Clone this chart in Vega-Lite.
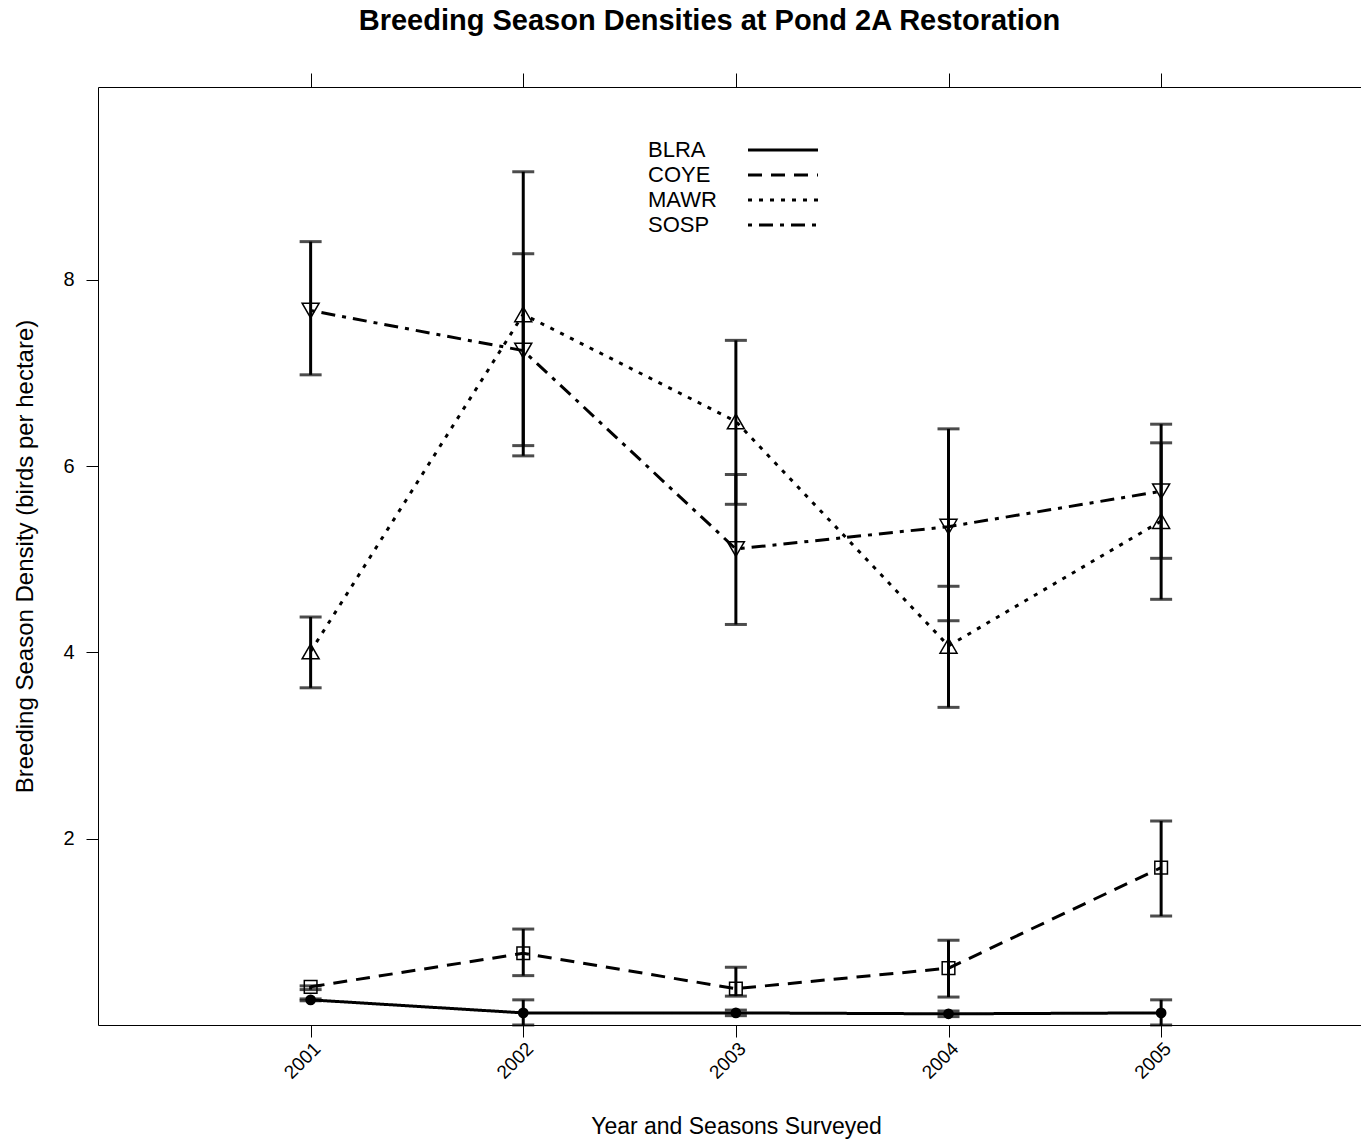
{
  "$schema": "https://vega.github.io/schema/vega-lite/v6.json",
  "width": 1263,
  "height": 938,
  "autosize": {"type": "none"},
  "padding": {"left": 98, "top": 87, "right": 0, "bottom": 119},
  "background": "white",
  "title": {
    "text": "Breeding Season Densities at Pond 2A Restoration",
    "font": "Liberation Sans",
    "fontSize": 29,
    "fontWeight": "bold",
    "color": "black",
    "anchor": "middle",
    "dx": -20,
    "baseline": "alphabetic",
    "offset": 14
  },
  "config": {
    "view": {"stroke": null},
    "font": "Liberation Sans",
    "axis": {
      "domainColor": "black",
      "tickColor": "black",
      "labelColor": "black",
      "titleColor": "black",
      "labelFont": "Liberation Sans",
      "titleFont": "Liberation Sans",
      "titleFontWeight": "normal",
      "grid": false,
      "tickSize": 12,
      "labelFontSize": 20,
      "titleFontSize": 23
    }
  },
  "data": {
    "values": [
      {"species": "BLRA", "year": 2001, "value": 0.27, "lo": 0.26, "hi": 0.28},
      {"species": "BLRA", "year": 2002, "value": 0.13, "lo": 0.0, "hi": 0.27},
      {"species": "BLRA", "year": 2003, "value": 0.13, "lo": 0.1, "hi": 0.16},
      {"species": "BLRA", "year": 2004, "value": 0.12, "lo": 0.09, "hi": 0.15},
      {"species": "BLRA", "year": 2005, "value": 0.13, "lo": 0.0, "hi": 0.27},
      {"species": "COYE", "year": 2001, "value": 0.41, "lo": 0.38, "hi": 0.42},
      {"species": "COYE", "year": 2002, "value": 0.77, "lo": 0.53, "hi": 1.03},
      {"species": "COYE", "year": 2003, "value": 0.39, "lo": 0.31, "hi": 0.62},
      {"species": "COYE", "year": 2004, "value": 0.61, "lo": 0.3, "hi": 0.91},
      {"species": "COYE", "year": 2005, "value": 1.69, "lo": 1.17, "hi": 2.19},
      {"species": "MAWR", "year": 2001, "value": 4.01, "lo": 3.62, "hi": 4.38},
      {"species": "MAWR", "year": 2002, "value": 7.63, "lo": 6.11, "hi": 9.16},
      {"species": "MAWR", "year": 2003, "value": 6.48, "lo": 5.59, "hi": 7.35},
      {"species": "MAWR", "year": 2004, "value": 4.07, "lo": 3.41, "hi": 4.71},
      {"species": "MAWR", "year": 2005, "value": 5.41, "lo": 4.57, "hi": 6.25},
      {"species": "SOSP", "year": 2001, "value": 7.67, "lo": 6.98, "hi": 8.41},
      {"species": "SOSP", "year": 2002, "value": 7.24, "lo": 6.22, "hi": 8.28},
      {"species": "SOSP", "year": 2003, "value": 5.11, "lo": 4.3, "hi": 5.91},
      {"species": "SOSP", "year": 2004, "value": 5.35, "lo": 4.34, "hi": 6.4},
      {"species": "SOSP", "year": 2005, "value": 5.73, "lo": 5.01, "hi": 6.45}
    ]
  },
  "resolve": {"axis": {"x": "independent", "y": "independent"}},
  "layer": [
    {
      "mark": {"type": "line", "color": "black", "strokeWidth": 3},
      "encoding": {
        "x": {
          "field": "year", "type": "quantitative",
          "scale": {"domain": [2000, 2005.94], "nice": false, "zero": false},
          "axis": {
            "values": [2001, 2002, 2003, 2004, 2005],
            "format": "d",
            "labelAngle": -45,
            "labelAlign": "right",
            "labelBaseline": "top",
            "labelPadding": 2,
            "labelFontSize": 19,
            "labelFlush": false,
            "labelOverlap": false,
            "title": "Year and Seasons Surveyed",
            "titleX": 638,
            "titleY": 101,
            "titleAlign": "center",
            "titleBaseline": "middle"
          }
        },
        "y": {
          "field": "value", "type": "quantitative",
          "scale": {"domain": [0, 10.07], "nice": false, "zero": false},
          "axis": {
            "values": [2, 4, 6, 8],
            "labelPadding": 12,
            "title": "Breeding Season Density (birds per hectare)",
            "titleFontSize": 24,
            "titleX": -73,
            "titleY": 469,
            "titleAngle": -90,
            "titleAlign": "center",
            "titleBaseline": "middle"
          }
        },
        "strokeDash": {
          "field": "species", "type": "nominal",
          "scale": {
            "domain": ["BLRA", "COYE", "MAWR", "SOSP"],
            "range": [[1, 0], [14, 9], [4, 7], [4, 7, 14, 7]]
          },
          "legend": {
            "orient": "none",
            "legendX": 639,
            "legendY": 52,
            "title": null,
            "symbolType": "M0,0H10",
            "symbolSize": 196,
            "symbolStrokeWidth": 3,
            "symbolStrokeColor": "black",
            "symbolFillColor": "transparent",
            "symbolOpacity": 1,
            "labelFont": "Liberation Sans",
            "labelFontSize": 22,
            "labelColor": "black",
            "labelOffset": -111,
            "labelAlign": "left",
            "rowPadding": 3,
            "padding": 0
          }
        },
        "order": {"field": "year", "type": "quantitative"}
      }
    },
    {
      "mark": {"type": "rule", "color": "black", "strokeWidth": 3},
      "encoding": {
        "x": {"field": "year", "type": "quantitative", "axis": null, "scale": {"domain": [2000, 2005.94], "nice": false, "zero": false}},
        "y": {"field": "lo", "type": "quantitative", "axis": null, "scale": {"domain": [0, 10.07], "nice": false, "zero": false}},
        "y2": {"field": "hi"}
      }
    },
    {
      "mark": {"type": "tick", "color": "black", "orient": "horizontal", "size": 22, "thickness": 3},
      "encoding": {
        "x": {"field": "year", "type": "quantitative", "axis": null, "scale": {"domain": [2000, 2005.94], "nice": false, "zero": false}},
        "y": {"field": "lo", "type": "quantitative", "axis": null, "scale": {"domain": [0, 10.07], "nice": false, "zero": false}}
      }
    },
    {
      "mark": {"type": "tick", "color": "black", "orient": "horizontal", "size": 22, "thickness": 3},
      "encoding": {
        "x": {"field": "year", "type": "quantitative", "axis": null, "scale": {"domain": [2000, 2005.94], "nice": false, "zero": false}},
        "y": {"field": "hi", "type": "quantitative", "axis": null, "scale": {"domain": [0, 10.07], "nice": false, "zero": false}}
      }
    },
    {
      "transform": [{"filter": "datum.species === 'BLRA'"}],
      "mark": {"type": "point", "shape": "circle", "size": 115, "filled": true, "color": "black", "opacity": 1},
      "encoding": {
        "x": {
          "field": "year", "type": "quantitative",
          "scale": {"domain": [2000, 2005.94], "nice": false, "zero": false},
          "axis": {
            "orient": "top",
            "values": [2001, 2002, 2003, 2004, 2005],
            "labels": false,
            "title": null,
            "tickSize": 14
          }
        },
        "y": {"field": "value", "type": "quantitative", "axis": null, "scale": {"domain": [0, 10.07], "nice": false, "zero": false}}
      }
    },
    {
      "transform": [{"filter": "datum.species === 'COYE'"}],
      "mark": {"type": "point", "shape": "square", "size": 160, "filled": false, "stroke": "black", "strokeWidth": 1.5, "opacity": 1},
      "encoding": {
        "x": {"field": "year", "type": "quantitative", "axis": null, "scale": {"domain": [2000, 2005.94], "nice": false, "zero": false}},
        "y": {"field": "value", "type": "quantitative", "axis": null, "scale": {"domain": [0, 10.07], "nice": false, "zero": false}}
      }
    },
    {
      "transform": [{"filter": "datum.species === 'MAWR'"}],
      "mark": {"type": "point", "shape": "triangle-up", "size": 289, "filled": false, "stroke": "black", "strokeWidth": 1.5, "opacity": 1},
      "encoding": {
        "x": {"field": "year", "type": "quantitative", "axis": null, "scale": {"domain": [2000, 2005.94], "nice": false, "zero": false}},
        "y": {"field": "value", "type": "quantitative", "axis": null, "scale": {"domain": [0, 10.07], "nice": false, "zero": false}}
      }
    },
    {
      "transform": [{"filter": "datum.species === 'SOSP'"}],
      "mark": {"type": "point", "shape": "triangle-down", "size": 289, "filled": false, "stroke": "black", "strokeWidth": 1.5, "opacity": 1},
      "encoding": {
        "x": {"field": "year", "type": "quantitative", "axis": null, "scale": {"domain": [2000, 2005.94], "nice": false, "zero": false}},
        "y": {"field": "value", "type": "quantitative", "axis": null, "scale": {"domain": [0, 10.07], "nice": false, "zero": false}}
      }
    }
  ]
}
